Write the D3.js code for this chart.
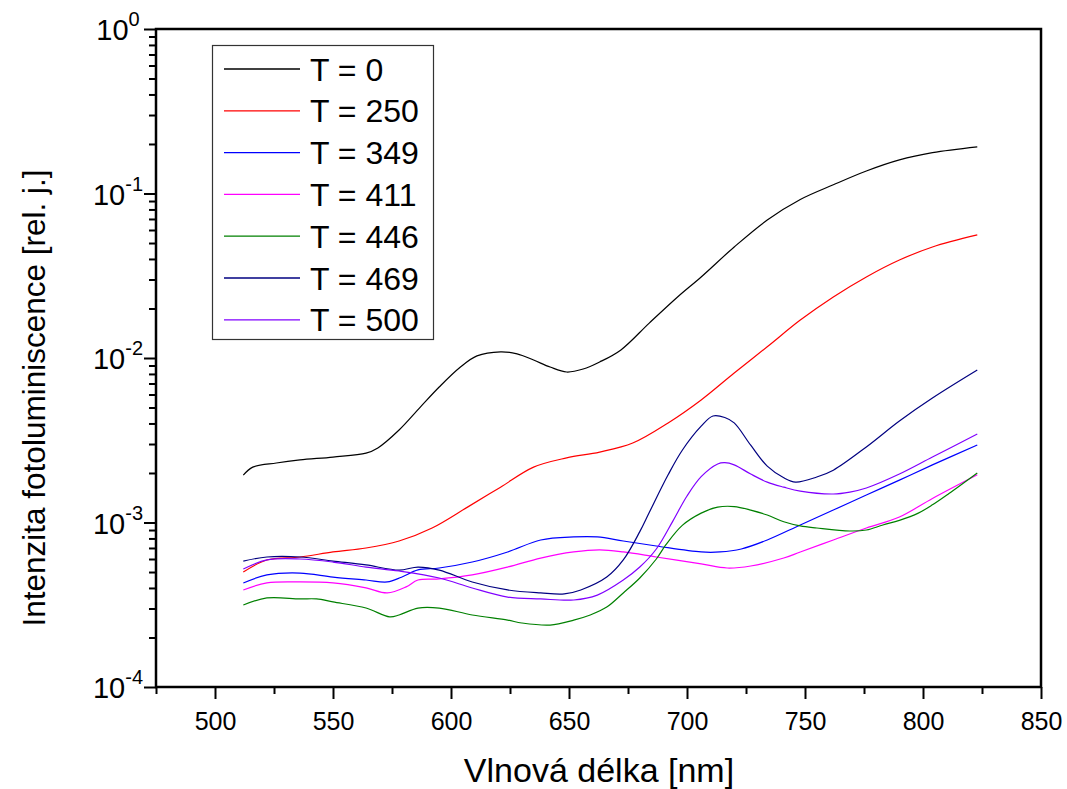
<!DOCTYPE html>
<html>
<head>
<meta charset="utf-8">
<script src="https://cdn.jsdelivr.net/npm/d3@7"></script>
<style>
  html, body { margin: 0; padding: 0; background: #fff; }
  svg { display: block; font-family: "Liberation Sans", Arial, Helvetica, sans-serif; }
</style>
</head>
<body>
<svg id="chart" width="1067" height="789"></svg>
<script>
// ---- data (wavelength nm, intensity rel. units) ----
const seriesNames = ["T = 0", "T = 250", "T = 349", "T = 411", "T = 446", "T = 469", "T = 500"];
const seriesColors = ["#000000", "#ff0000", "#0000ff", "#ff00ff", "#008000", "#000080", "#8000ff"];

const T0 = [[512,1.94e-3],[516,2.17e-3],[526,2.30e-3],[536,2.40e-3],[550,2.50e-3],[564,2.64e-3],[569,2.84e-3],[578,3.65e-3],[587,5.03e-3],[595,6.66e-3],[604,8.81e-3],[611,1.03e-2],[621,1.09e-2],[628,1.06e-2],[635,9.72e-3],[642,8.81e-3],[649,8.22e-3],[656,8.57e-3],[663,9.46e-3],[672,1.12e-2],[684,1.63e-2],[696,2.35e-2],[706,3.11e-2],[720,4.73e-2],[734,6.90e-2],[748,9.2e-2],[762,0.113],[776,0.137],[790,0.160],[804,0.177],[823,0.192]];

const T250 = [[512,5.0e-4],[522,5.92e-4],[536,6.17e-4],[550,6.62e-4],[564,7.0e-4],[578,7.72e-4],[592,9.26e-4],[607,1.24e-3],[621,1.64e-3],[635,2.17e-3],[649,2.47e-3],[663,2.68e-3],[677,3.04e-3],[692,4.03e-3],[706,5.56e-3],[720,8.11e-3],[734,1.17e-2],[748,1.70e-2],[762,2.35e-2],[776,3.11e-2],[790,3.94e-2],[804,4.73e-2],[823,5.6e-2]];

const T349 = [[512,4.29e-4],[522,4.80e-4],[536,4.93e-4],[550,4.66e-4],[564,4.47e-4],[573,4.35e-4],[579,4.65e-4],[586,5.15e-4],[595,5.29e-4],[609,5.75e-4],[624,6.62e-4],[638,7.83e-4],[652,8.17e-4],[662,8.17e-4],[673,7.72e-4],[687,7.20e-4],[706,6.62e-4],[714,6.62e-4],[723,6.90e-4],[734,7.83e-4],[748,9.66e-4],[762,1.19e-3],[776,1.47e-3],[790,1.81e-3],[804,2.24e-3],[823,2.96e-3]];

const T411 = [[512,3.89e-4],[522,4.29e-4],[536,4.35e-4],[550,4.29e-4],[564,4.0e-4],[573,3.73e-4],[581,4.06e-4],[586,4.47e-4],[595,4.54e-4],[609,4.80e-4],[624,5.36e-4],[638,6.08e-4],[652,6.62e-4],[663,6.81e-4],[673,6.62e-4],[687,6.17e-4],[706,5.60e-4],[717,5.29e-4],[727,5.44e-4],[741,6.08e-4],[748,6.62e-4],[762,7.83e-4],[776,9.26e-4],[790,1.08e-3],[804,1.40e-3],[823,1.95e-3]];

const T446 = [[512,3.15e-4],[522,3.48e-4],[536,3.43e-4],[543,3.43e-4],[550,3.29e-4],[564,3.02e-4],[574,2.67e-4],[578,2.74e-4],[586,3.02e-4],[595,3.02e-4],[609,2.74e-4],[624,2.55e-4],[630,2.45e-4],[642,2.38e-4],[652,2.55e-4],[659,2.74e-4],[666,3.06e-4],[673,3.73e-4],[680,4.6e-4],[687,6.0e-4],[691,7.3e-4],[698,9.6e-4],[706,1.14e-3],[713,1.24e-3],[720,1.25e-3],[727,1.19e-3],[734,1.11e-3],[741,1.01e-3],[748,9.53e-4],[755,9.26e-4],[769,8.88e-4],[776,9.0e-4],[783,9.66e-4],[790,1.03e-3],[798,1.14e-3],[804,1.28e-3],[811,1.50e-3],[823,2.0e-3]];

const T469 = [[512,5.83e-4],[522,6.17e-4],[536,6.17e-4],[550,5.83e-4],[564,5.52e-4],[578,5.14e-4],[586,5.36e-4],[595,5.14e-4],[609,4.35e-4],[624,3.89e-4],[638,3.73e-4],[648,3.68e-4],[655,3.89e-4],[666,4.66e-4],[673,5.92e-4],[680,8.8e-4],[684,1.15e-3],[692,1.95e-3],[698,2.75e-3],[706,3.85e-3],[711,4.44e-3],[716,4.35e-3],[720,4.03e-3],[727,2.95e-3],[734,2.20e-3],[741,1.87e-3],[746,1.76e-3],[755,1.89e-3],[762,2.08e-3],[776,2.88e-3],[790,4.14e-3],[804,5.71e-3],[823,8.45e-3]];

const T500 = [[512,5.21e-4],[522,5.92e-4],[536,6.0e-4],[550,5.75e-4],[564,5.36e-4],[578,5.07e-4],[595,4.60e-4],[609,4.0e-4],[624,3.52e-4],[638,3.43e-4],[652,3.38e-4],[662,3.62e-4],[673,4.47e-4],[680,5.36e-4],[687,6.9e-4],[694,1.02e-3],[700,1.45e-3],[706,1.9e-3],[713,2.27e-3],[716,2.31e-3],[720,2.24e-3],[727,1.97e-3],[734,1.76e-3],[741,1.64e-3],[748,1.55e-3],[762,1.49e-3],[769,1.53e-3],[776,1.62e-3],[790,1.97e-3],[804,2.50e-3],[823,3.45e-3]];

const seriesData = [T0, T250, T349, T411, T446, T469, T500];

const xMajorTicks = [500, 550, 600, 650, 700, 750, 800, 850];
const xMinorTicks = [475, 525, 575, 625, 675, 725, 775, 825];
const yMajorTicks = [1, 1e-1, 1e-2, 1e-3, 1e-4];
const yTickExponents = ["0", "-1", "-2", "-3", "-4"];
const xTitle = "Vlnová délka [nm]";
const yTitle = "Intenzita fotoluminiscence [rel. j.]";

// ---- layout ----
const plotL = 156, plotR = 1041, plotT = 29, plotB = 687;
const svg = d3.select("#chart");

const x = d3.scaleLinear().domain([475, 850]).range([plotL, plotR]);
const y = d3.scaleLog().domain([1e-4, 1]).range([plotB, plotT]);

// series
const line = d3.line()
  .x(d => x(d[0]))
  .y(d => y(d[1]))
  .curve(d3.curveCatmullRom.alpha(0.5));

svg.append("g")
  .selectAll("path")
  .data(seriesData)
  .join("path")
  .attr("d", d => line(d))
  .attr("fill", "none")
  .attr("stroke", (d, i) => seriesColors[i])
  .attr("stroke-width", 1.2);

// x axis
const gx = svg.append("g").attr("transform", `translate(0,${plotB})`);
gx.call(d3.axisBottom(x).tickValues(xMajorTicks).tickSize(12).tickPadding(13).tickFormat(d3.format("d")));
gx.append("g").call(d3.axisBottom(x).tickValues(xMinorTicks).tickSize(7).tickFormat(""));
gx.selectAll(".domain").remove();
gx.selectAll("line").attr("stroke", "#000").attr("stroke-width", 2);
gx.selectAll("text").attr("font-size", 25).attr("fill", "#000").attr("font-family", "'Liberation Sans', Arial, sans-serif");

// y axis
const yMinor = y.ticks().filter(v => !yMajorTicks.some(m => Math.abs(m - v) / m < 1e-9));
const gy = svg.append("g").attr("transform", `translate(${plotL},0)`);
gy.call(d3.axisLeft(y).tickValues(yMajorTicks).tickSize(12).tickFormat(""));
gy.append("g").call(d3.axisLeft(y).tickValues(yMinor).tickSize(7).tickFormat(""));
gy.selectAll(".domain").remove();
gy.selectAll("line").attr("stroke", "#000").attr("stroke-width", 2);

const ylab = svg.append("g");
yMajorTicks.forEach((v, i) => {
  const t = ylab.append("text")
    .attr("x", 118)
    .attr("y", y(v) + 11)
    .attr("text-anchor", "middle")
    .attr("font-size", 29)
    .attr("fill", "#000");
  t.append("tspan").text("10");
  t.append("tspan").attr("dy", -14).attr("font-size", 20).text(yTickExponents[i]);
});

// frame
svg.append("rect")
  .attr("x", plotL).attr("y", plotT)
  .attr("width", plotR - plotL).attr("height", plotB - plotT)
  .attr("fill", "none").attr("stroke", "#000").attr("stroke-width", 2.5);

// axis titles
svg.append("text")
  .attr("x", 599).attr("y", 782)
  .attr("text-anchor", "middle")
  .attr("font-size", 34)
  .attr("fill", "#000")
  .text(xTitle);

svg.append("text")
  .attr("transform", `translate(45,398) rotate(-90)`)
  .attr("text-anchor", "middle")
  .attr("font-size", 31.5)
  .attr("fill", "#000")
  .text(yTitle);

// legend
const lg = svg.append("g");
lg.append("rect")
  .attr("x", 212.5).attr("y", 45.5).attr("width", 221).attr("height", 294)
  .attr("fill", "#fff").attr("stroke", "#333").attr("stroke-width", 1.2);
seriesNames.forEach((name, i) => {
  const ly = 69 + i * 41.8;
  lg.append("line")
    .attr("x1", 224).attr("x2", 300).attr("y1", ly).attr("y2", ly)
    .attr("stroke", seriesColors[i]).attr("stroke-width", 1.3);
  lg.append("text")
    .attr("x", 310).attr("y", ly + 11.5)
    .attr("font-size", 32)
    .attr("fill", "#000")
    .text(name);
});
</script>
</body>
</html>
